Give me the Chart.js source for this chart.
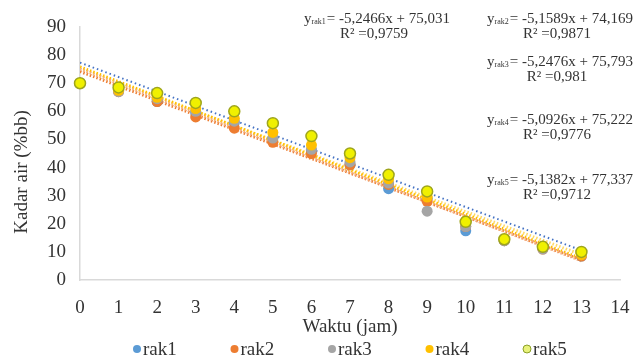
<!DOCTYPE html>
<html>
<head>
<meta charset="utf-8">
<script src="https://cdn.jsdelivr.net/npm/chart.js@4.4.0/dist/chart.umd.min.js"></script>
<style>
  html, body { margin: 0; padding: 0; background: #fff; }
</style>
</head>
<body>
<canvas id="chart" width="639" height="363"></canvas>
<script>
// ─── DATA ────────────────────────────────────────────────────────────────
const hours = [0, 1, 2, 3, 4, 5, 6, 7, 8, 9, 10, 11, 12, 13];
const rak1 = [70, 67.5, 63.5, 59.5, 56, 50.5, 46, 41, 32.5, 29, 17.5, 14, 11.5, 8.5];
const rak2 = [70, 67, 63.5, 58, 54, 49, 45, 41, 34, 28, 19, 14, 11, 8.5];
const rak3 = [70, 67, 64.5, 60, 56.5, 50.5, 46.5, 42, 34.5, 24.5, 19, 14, 11, 9];
const rak4 = [70, 67.5, 65, 61, 57.5, 52.5, 48, 43.5, 36, 29.5, 21, 14.5, 12, 9];
const rak5 = [70, 68.5, 66.5, 63, 60, 55.8, 51.2, 45, 37.4, 31.5, 20.7, 14.5, 11.8, 10];

const seriesNames = ['rak1', 'rak2', 'rak3', 'rak4', 'rak5'];
const seriesValues = [rak1, rak2, rak3, rak4, rak5];

// trendline equations as printed on the chart
const slopes = [-5.2466, -5.1589, -5.2476, -5.0926, -5.1382];
const intercepts = [75.031, 74.169, 75.793, 75.222, 77.337];
const eqTexts = ['= -5,2466x + 75,031', '= -5,1589x + 74,169', '= -5,2476x + 75,793', '= -5,0926x + 75,222', '= -5,1382x + 77,337'];
const r2Texts = ['R² =0,9759', 'R² =0,9871', 'R² =0,981', 'R² =0,9776', 'R² =0,9712'];

const xTickMax = 14;
const yTickMax = 90;

// ─── STYLE ───────────────────────────────────────────────────────────────
const FONT = '"Liberation Serif", serif';
const TEXT = '#333333';
const fillColors = ['#5b9bd5', '#ed7d31', '#a5a5a5', '#ffc000', '#f0f000'];
const edgeColors = ['#5b9bd5', '#ed7d31', '#a5a5a5', '#ffc000', '#9ea51c'];
const trendColors = ['#f4b183', '#ed7d31', '#ffc000', '#ffd966', '#4472c4'];

// where each equation block sits (centre x, first line y)
const eqPos = [[377, 19], [560, 19], [560, 62], [560, 120], [560, 180]];

const pointSets = seriesValues.map((vals, i) => ({
  label: seriesNames[i],
  data: hours.map((h, j) => ({ x: h, y: vals[j] })),
  showLine: false,
  pointRadius: 5.5,
  pointBorderWidth: i === 4 ? 1.5 : 0,
  backgroundColor: fillColors[i],
  borderColor: edgeColors[i],
  clip: false,
  order: 5 - i
}));

const trendSets = slopes.map((m, i) => {
  const x0 = hours[0], x1 = hours[hours.length - 1];
  const blue = i === 4;
  return {
    label: 'trend ' + seriesNames[i],
    data: [{ x: x0, y: m * x0 + intercepts[i] }, { x: x1, y: m * x1 + intercepts[i] }],
    showLine: true,
    pointRadius: 0,
    borderColor: trendColors[i],
    borderWidth: blue ? 2 : 3,
    borderDash: blue ? [1.5, 3] : [1.5, 2],
    fill: false,
    order: blue ? 9 : 10
  };
});

// ─── TEXT OVERLAY (equations, y title, legend) ───────────────────────────
const overlay = {
  id: 'overlay',
  afterDraw(chart) {
    const ctx = chart.ctx;
    ctx.save();
    ctx.fillStyle = TEXT;
    ctx.textBaseline = 'middle';

    // equations
    eqPos.forEach(([cx, cy], i) => {
      const big = '15px ' + FONT, small = '8px ' + FONT;
      ctx.font = big;
      const wy = ctx.measureText('y').width;
      const wr = ctx.measureText(eqTexts[i]).width;
      ctx.font = small;
      const ws = ctx.measureText(seriesNames[i]).width;
      let x = cx - (wy + ws + 1 + wr) / 2;
      ctx.textAlign = 'left';
      ctx.font = big;
      ctx.fillText('y', x, cy);
      x += wy;
      ctx.font = small;
      ctx.fillText(seriesNames[i], x, cy + 3);
      x += ws + 1;
      ctx.font = big;
      ctx.fillText(eqTexts[i], x, cy);
      ctx.textAlign = 'center';
      ctx.fillText(r2Texts[i], cx - 3, cy + 15);
    });

    // y axis title
    ctx.save();
    ctx.translate(22, 172);
    ctx.rotate(-Math.PI / 2);
    ctx.textAlign = 'center';
    ctx.font = '19px ' + FONT;
    ctx.fillText('Kadar air (%bb)', 0, 0);
    ctx.restore();

    // legend
    ctx.font = '19px ' + FONT;
    ctx.textAlign = 'left';
    seriesNames.forEach((name, i) => {
      const mx = 137 + i * 97.5, my = 349;
      ctx.beginPath();
      ctx.arc(mx, my, 4, 0, Math.PI * 2);
      ctx.fillStyle = i === 4 ? '#e8f27a' : fillColors[i];
      ctx.fill();
      if (i === 4) { ctx.strokeStyle = '#8ca02a'; ctx.lineWidth = 1; ctx.stroke(); }
      ctx.fillStyle = TEXT;
      ctx.fillText(name, mx + 6, my + 1);
    });
    ctx.restore();
  }
};

function draw() {
  new Chart(document.getElementById('chart'), {
    type: 'scatter',
    data: { datasets: [...pointSets, ...trendSets] },
    options: {
      responsive: false,
      devicePixelRatio: 1,
      animation: false,
      layout: { padding: { top: 27, right: 19, bottom: 25, left: 0 } },
      plugins: { legend: { display: false }, tooltip: { enabled: false } },
      scales: {
        x: {
          type: 'linear',
          min: 0,
          max: xTickMax,
          ticks: { stepSize: 1, padding: 17, color: TEXT, font: { family: FONT, size: 19 } },
          grid: { display: false, drawTicks: false },
          border: { display: true, color: '#d9d9d9', width: 1.5 },
          title: { display: true, text: 'Waktu (jam)', color: TEXT, font: { family: FONT, size: 19 }, padding: 0 },
          afterFit(scale) {
            scale.height = 58;
            scale.paddingLeft = 0;
            scale.paddingRight = 0;
          }
        },
        y: {
          min: 0,
          max: yTickMax,
          ticks: { stepSize: 10, padding: 14, color: TEXT, font: { family: FONT, size: 19 } },
          grid: { display: false, drawTicks: false },
          border: { display: true, color: '#d9d9d9', width: 1.5 },
          afterFit(scale) { scale.width = 80; }
        }
      }
    },
    plugins: [overlay]
  });
}

Promise.all([
  document.fonts.load('19px "Liberation Serif"'),
  document.fonts.load('8px "Liberation Serif"')
]).then(draw, draw);
</script>
</body>
</html>
